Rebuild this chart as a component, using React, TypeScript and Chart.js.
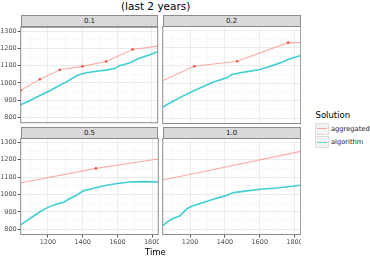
import React, { useEffect, useRef } from 'react';
import { Chart, registerables } from 'chart.js';
Chart.register(...registerables);

// ---------- data ----------
const X_MIN = 1043;
const X_MAX = 1835;
const Y_MIN = 770;
const Y_MAX = 1322;
const X_GRID = [1100, 1200, 1300, 1400, 1500, 1600, 1700, 1800];
const X_LABELED = [1200, 1400, 1600, 1800];
const Y_GRID = [800, 850, 900, 950, 1000, 1050, 1100, 1150, 1200, 1250, 1300];
const Y_LABELED = [800, 900, 1000, 1100, 1200, 1300];

const FACETS = ['0.1', '0.2', '0.5', '1.0'];
const SERIES = ['aggregated', 'algorithm'];

const agg01X = [1045, 1154, 1269, 1400, 1537, 1690, 1835];
const agg01Y = [958, 1021, 1076, 1096, 1124, 1194, 1213];
const agg01Dot = [1, 1, 1, 1, 1, 1, 0];
const alg01X = [1043, 1097, 1154, 1211, 1269, 1307, 1346, 1384, 1422, 1480, 1537, 1585, 1614, 1671, 1729, 1786, 1835];
const alg01Y = [874, 898, 927, 955, 987, 1006, 1030, 1049, 1059, 1068, 1074, 1083, 1100, 1115, 1143, 1162, 1181];

const agg02X = [1045, 1225, 1470, 1763, 1835];
const agg02Y = [1015, 1096, 1124, 1230, 1230];
const agg02Dot = [0, 1, 1, 1, 0];
const alg02X = [1043, 1104, 1161, 1219, 1276, 1334, 1411, 1440, 1487, 1545, 1602, 1660, 1717, 1775, 1835];
const alg02Y = [864, 898, 927, 955, 980, 1006, 1030, 1049, 1059, 1068, 1077, 1096, 1115, 1138, 1157];

const agg05X = [1045, 1476, 1835];
const agg05Y = [1068, 1150, 1204];
const agg05Dot = [0, 1, 0];
const alg05X = [1043, 1078, 1116, 1154, 1200, 1250, 1288, 1326, 1365, 1403, 1441, 1480, 1537, 1600, 1671, 1747, 1835];
const alg05Y = [825, 850, 875, 901, 926, 945, 954, 977, 996, 1021, 1030, 1040, 1053, 1063, 1072, 1074, 1072];

const agg10X = [1045, 1835];
const agg10Y = [1083, 1248];
const agg10Dot = [0, 0];
const alg10X = [1043, 1066, 1095, 1143, 1171, 1185, 1210, 1276, 1334, 1401, 1449, 1526, 1602, 1698, 1835];
const alg10Y = [821, 840, 859, 878, 907, 920, 932, 954, 973, 992, 1011, 1021, 1030, 1037, 1053];

// ---------- styling ----------
const FONT = 'DejaVu Sans';
const AGG_LINE = 'rgba(248,118,109,0.6)';
const AGG_DOT = '#e9574c';
const ALG_LINE = 'rgba(0,191,196,0.75)';
const FRAME = '#8c8c8c';

const COL_LEFT = [20.7, 162.7];
const COL_RIGHT = [158.3, 300.7];
const ROW_TOP = [26.5, 138.5];
const ROW_BOTTOM = [123.5, 234.5];
const STRIP_H = 12;

const zip = (xs: number[], ys: number[]) => xs.map((x, i) => ({ x, y: ys[i] }));

const framePlugin = {
  id: 'frame',
  afterDraw(chart: any) {
    const { ctx, chartArea: a } = chart;
    ctx.save();
    ctx.strokeStyle = FRAME;
    ctx.lineWidth = 1;
    ctx.strokeRect(a.left, a.top, a.right - a.left, a.bottom - a.top);
    ctx.restore();
  },
};

type PanelProps = {
  label: string;
  col: number;
  row: number;
  aggX: number[];
  aggY: number[];
  aggDot: number[];
  algX: number[];
  algY: number[];
};

function Panel({ label, col, row, aggX, aggY, aggDot, algX, algY }: PanelProps) {
  const ref = useRef<HTMLCanvasElement | null>(null);
  const showY = col === 0;
  const showX = row === 1;
  const yAxisW = showY ? COL_LEFT[0] : 0.7;
  const canvasLeft = showY ? 0 : 162;
  const canvasW = showY ? 159 : 139;
  const canvasTop = showX ? 138 : 26;
  const canvasH = showX ? 111 : 98;
  const padR = canvasLeft + canvasW - COL_RIGHT[col];
  const xAxisH = canvasTop + canvasH - ROW_BOTTOM[row];

  useEffect(() => {
    if (!ref.current) return;
    const chart = new Chart(ref.current, {
      type: 'line',
      data: {
        datasets: [
          {
            label: SERIES[0],
            data: zip(aggX, aggY),
            borderColor: AGG_LINE,
            borderWidth: 1.1,
            pointRadius: aggDot.map((d) => (d ? 1.3 : 0)),
            pointBackgroundColor: AGG_DOT,
            pointBorderWidth: 0,
            pointHoverRadius: 0,
            tension: 0,
          },
          {
            label: SERIES[1],
            data: zip(algX, algY),
            borderColor: ALG_LINE,
            borderWidth: 1.6,
            pointRadius: 0,
            pointHoverRadius: 0,
            tension: 0,
          },
        ],
      },
      options: {
        animation: false,
        responsive: true,
        maintainAspectRatio: false,
        events: [],
        layout: { padding: { left: 0, right: padR, top: ROW_TOP[row] - canvasTop, bottom: 0 } },
        plugins: { legend: { display: false }, tooltip: { enabled: false }, title: { display: false } },
        scales: {
          x: {
            type: 'linear',
            min: X_MIN,
            max: X_MAX,
            afterBuildTicks: (s: any) => {
              s.ticks = X_GRID.map((v) => ({ value: v }));
            },
            afterFit: (s: any) => {
              s.height = xAxisH;
              s.paddingLeft = 0;
              s.paddingRight = 0;
            },
            ticks: {
              display: showX,
              autoSkip: false,
              maxRotation: 0,
              padding: 0.5,
              font: { family: FONT, size: 6.5 },
              color: '#4d4d4d',
              callback: (v: any) => (X_LABELED.includes(v) ? String(v) : ''),
            },
            grid: {
              color: (c: any) => (X_LABELED.includes(c.tick?.value) ? '#ebebeb' : '#f5f5f5'),
              lineWidth: (c: any) => (X_LABELED.includes(c.tick?.value) ? 1 : 0.6),
              drawTicks: showX,
              tickLength: 3,
              tickWidth: 1,
              tickColor: (c: any) => (X_LABELED.includes(c.tick?.value) ? '#555555' : 'rgba(0,0,0,0)'),
            },
            border: { display: false },
          },
          y: {
            type: 'linear',
            min: Y_MIN,
            max: Y_MAX,
            afterBuildTicks: (s: any) => {
              s.ticks = Y_GRID.map((v) => ({ value: v }));
            },
            afterFit: (s: any) => {
              s.width = yAxisW;
              s.paddingTop = 0;
              s.paddingBottom = 0;
            },
            ticks: {
              display: showY,
              autoSkip: false,
              padding: 1,
              font: { family: FONT, size: 6.5 },
              color: '#4d4d4d',
              callback: (v: any) => (Y_LABELED.includes(v) ? String(v) : ''),
            },
            grid: {
              color: (c: any) => (Y_LABELED.includes(c.tick?.value) ? '#ebebeb' : '#f5f5f5'),
              lineWidth: (c: any) => (Y_LABELED.includes(c.tick?.value) ? 1 : 0.6),
              drawTicks: showY,
              tickLength: 3,
              tickWidth: 1,
              tickColor: (c: any) => (Y_LABELED.includes(c.tick?.value) ? '#555555' : 'rgba(0,0,0,0)'),
            },
            border: { display: false },
          },
        },
      } as any,
      plugins: [framePlugin],
    });
    return () => chart.destroy();
  }, []);

  const stripTop = ROW_TOP[row] - STRIP_H;
  return (
    <>
      <div
        style={{
          position: 'absolute',
          left: COL_LEFT[col],
          top: stripTop,
          width: COL_RIGHT[col] - COL_LEFT[col],
          height: STRIP_H + 0.5,
          boxSizing: 'border-box',
          background: '#d9d9d9',
          border: `1px solid ${FRAME}`,
          fontFamily: FONT,
          fontSize: 7,
          color: '#1a1a1a',
          textAlign: 'center',
          lineHeight: `${STRIP_H - 1.5}px`,
        }}
      >
        {label}
      </div>
      <div style={{ position: 'absolute', left: canvasLeft, top: canvasTop, width: canvasW, height: canvasH }}>
        <canvas ref={ref} style={{ display: 'block' }} />
      </div>
    </>
  );
}

function LegendKey({ top, color, text }: { top: number; color: string; text: string }) {
  return (
    <>
      <div
        style={{
          position: 'absolute',
          left: 315,
          top,
          width: 14,
          height: 12,
          boxSizing: 'border-box',
          background: '#f2f2f2',
          border: '1px solid #dddddd',
        }}
      >
        <div style={{ position: 'absolute', left: 1, right: 1, top: 4.5, height: 1.4, background: color }} />
      </div>
      <div
        style={{
          position: 'absolute',
          left: 331,
          top: top + 1,
          fontFamily: FONT,
          fontSize: 6.7,
          lineHeight: '10px',
          color: '#1a1a1a',
          whiteSpace: 'nowrap',
        }}
      >
        {text}
      </div>
    </>
  );
}

export default function App() {
  return (
    <div
      style={{
        position: 'fixed',
        left: 0,
        top: 0,
        width: 370,
        height: 256,
        background: '#ffffff',
        overflow: 'hidden',
      }}
    >
      <div
        style={{
          position: 'absolute',
          left: 121,
          top: -0.5,
          fontFamily: FONT,
          fontSize: 10.5,
          lineHeight: '12px',
          color: '#000',
          whiteSpace: 'nowrap',
        }}
      >
        (last 2 years)
      </div>
      <Panel label={FACETS[0]} col={0} row={0} aggX={agg01X} aggY={agg01Y} aggDot={agg01Dot} algX={alg01X} algY={alg01Y} />
      <Panel label={FACETS[1]} col={1} row={0} aggX={agg02X} aggY={agg02Y} aggDot={agg02Dot} algX={alg02X} algY={alg02Y} />
      <Panel label={FACETS[2]} col={0} row={1} aggX={agg05X} aggY={agg05Y} aggDot={agg05Dot} algX={alg05X} algY={alg05Y} />
      <Panel label={FACETS[3]} col={1} row={1} aggX={agg10X} aggY={agg10Y} aggDot={agg10Dot} algX={alg10X} algY={alg10Y} />
      <div
        style={{
          position: 'absolute',
          left: 145,
          top: 246.5,
          fontFamily: FONT,
          fontSize: 8.5,
          lineHeight: '11px',
          color: '#000',
          whiteSpace: 'nowrap',
        }}
      >
        Time
      </div>
      <div
        style={{
          position: 'absolute',
          left: 315.5,
          top: 110,
          fontFamily: FONT,
          fontSize: 8.5,
          lineHeight: '11px',
          color: '#000',
          whiteSpace: 'nowrap',
        }}
      >
        Solution
      </div>
      <LegendKey top={122.5} color="rgba(248,118,109,0.6)" text={SERIES[0]} />
      <LegendKey top={136} color="rgba(0,191,196,0.6)" text={SERIES[1]} />
    </div>
  );
}
